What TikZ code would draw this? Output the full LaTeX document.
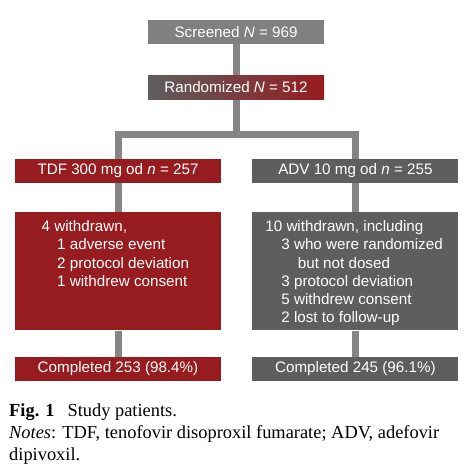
\documentclass[tikz,border=0pt]{standalone}
\usepackage{fontspec}
\setmainfont{Liberation Serif}
\newfontfamily\boxfont{Liberation Sans}
\usetikzlibrary{positioning}
\definecolor{tdfred}{HTML}{961C20}
\definecolor{advgray}{HTML}{5E5E5E}
\definecolor{scrgray}{HTML}{808080}
\definecolor{linkgray}{HTML}{858585}

\begin{document}
\begin{tikzpicture}[x=1pt,y=-1pt,
    box/.style={inner sep=0pt,minimum height=24pt,text=white,font=\boxfont\fontsize{15.2}{18.3}\selectfont},
    arm/.style={box,minimum width=206pt},
    wdtext/.style={anchor=north west,inner sep=0pt,align=left,text=white,font=\boxfont\fontsize{15.2}{18.3}\selectfont},
    link/.style={draw=linkgray,line width=7pt},
    caption/.style={anchor=base west,inner sep=0pt,font=\fontsize{18.4}{22}\selectfont}]
  \useasboundingbox (0,0) rectangle (469,464);
  \node[box,fill=scrgray,minimum width=176pt] (scr) at (236,32) {Screened \textit{N} = 969};
  \node[box,left color=advgray,right color=tdfred,minimum width=176pt,below=31pt of scr] (rand) {Randomized \textit{N} = 512};
  \node[arm,fill=tdfred] (tdf) at (118,171) {TDF 300 mg od \textit{n} = 257};
  \node[arm,fill=advgray,right=31pt of tdf] (adv) {ADV 10 mg od \textit{n} = 255};
  \node[arm,fill=tdfred,minimum height=118pt,below=29pt of tdf] (tdfwd) {};
  \node[arm,fill=advgray,minimum height=118pt,below=29pt of adv] (advwd) {};
  \node[arm,fill=tdfred,below=26pt of tdfwd] (tdfend) {Completed 253 (98.4\%)};
  \node[arm,fill=advgray,below=26pt of advwd] (advend) {Completed 245 (96.1\%)};
  \node[wdtext] (tdfwd-txt) at ([shift={(26.7,8)}]tdfwd.north west)
    {4 withdrawn,\\ \hspace*{15.5pt}1 adverse event\\ \hspace*{15.5pt}2 protocol deviation\\ \hspace*{15.5pt}1 withdrew consent};
  \node[wdtext] (advwd-txt) at ([shift={(13,8)}]advwd.north west)
    {10 withdrawn, including\\ \hspace*{16pt}3 who were randomized\\ \hspace*{32.5pt}but not dosed\\
     \hspace*{16pt}3 protocol deviation\\ \hspace*{16pt}5 withdrew consent\\ \hspace*{16pt}2 lost to follow-up};
  \coordinate (split) at (236,134);
  \draw[link] (scr) -- (rand);
  \draw[link] (rand) -- (split);
  \draw[link] (tdf.north) |- (split) -| (adv.north);
  \foreach \n in {tdf,adv} {
    \draw[link] (\n) -- (\n wd);
    \draw[link] (\n wd) -- (\n end);
  }
  \node[caption] (fig) at (9,416) {\textbf{Fig. 1}\hspace{0.7em}Study patients.};
  \node[caption] (notes) at (9,438) {\textit{Notes}: TDF, tenofovir disoproxil fumarate; ADV, adefovir};
  \node[caption] (notes2) at (9,460) {dipivoxil.};
\end{tikzpicture}
\end{document}
